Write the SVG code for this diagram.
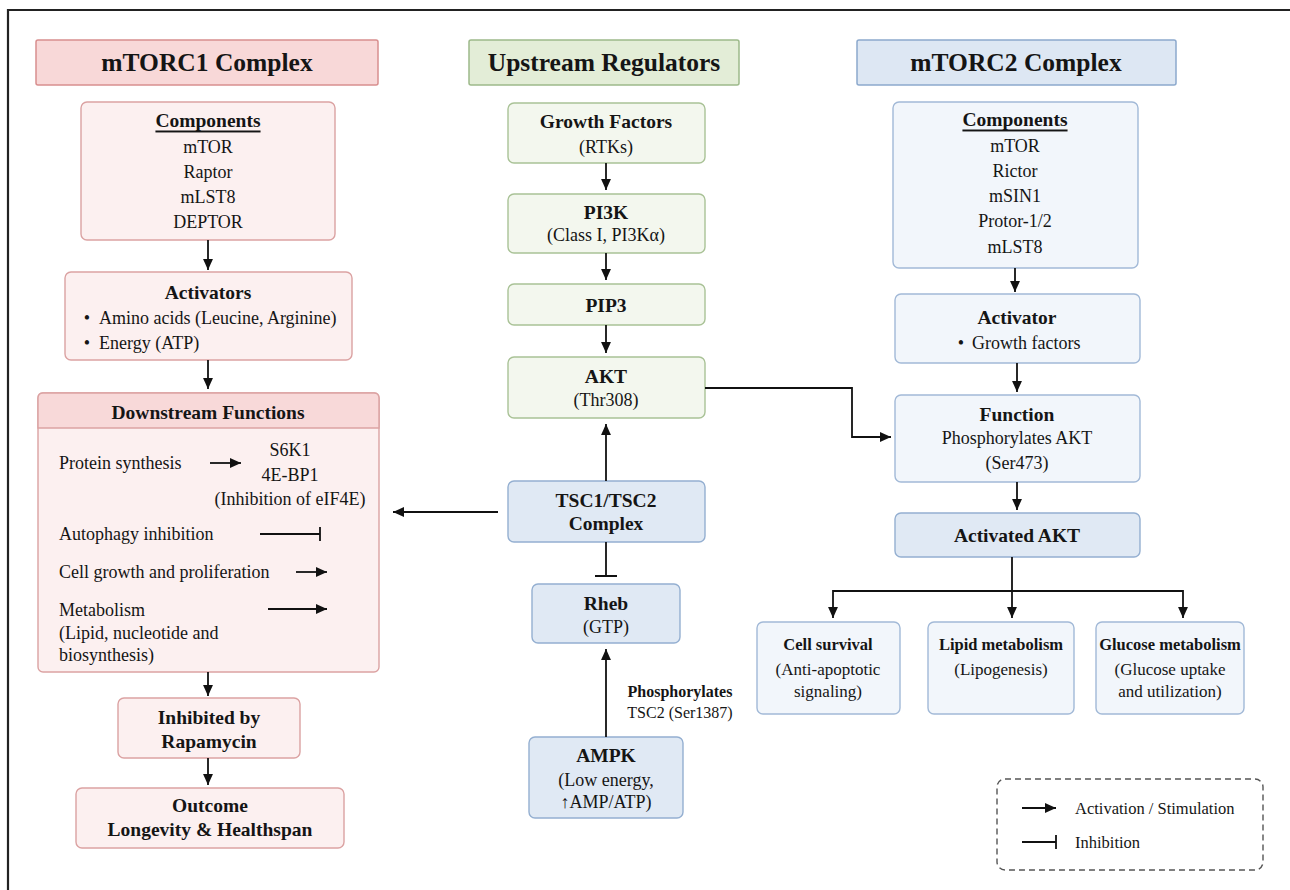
<svg xmlns="http://www.w3.org/2000/svg" width="1290" height="890" viewBox="0 0 1290 890">
<defs>
<marker id="arr" viewBox="0 0 10 10" refX="10" refY="5" markerWidth="11" markerHeight="11" markerUnits="userSpaceOnUse" orient="auto">
<path d="M0,0.5 L10,5 L0,9.5 z" fill="#111"/>
</marker>
<style>
text{font-family:"Liberation Serif","Times New Roman",serif;fill:#151515;dominant-baseline:central;text-anchor:middle}
.h{font-size:25.5px;font-weight:bold}
.b{font-size:19.5px;font-weight:bold}
.t{font-size:18px}
.bs{font-size:16.5px;font-weight:bold}
.ts{font-size:17px}
.s{font-size:16px}
.lg{font-size:16.5px}
.l{text-anchor:start}
.u{text-decoration:underline}
.redh{fill:#f8d8d8;stroke:#d88e8e;stroke-width:1.5}
.red{fill:#fcf0f0;stroke:#dba2a2;stroke-width:1.4}
.grnh{fill:#e3edd7;stroke:#9db98a;stroke-width:1.5}
.grn{fill:#f3f7ee;stroke:#a9c296;stroke-width:1.4}
.bluh{fill:#dde7f3;stroke:#8ca9cd;stroke-width:1.5}
.blu{fill:#f2f6fb;stroke:#a2b9d7;stroke-width:1.4}
.blu2{fill:#e0e9f4;stroke:#94afd1;stroke-width:1.4}
.c{fill:none;stroke:#111;stroke-width:1.8}
</style>
</defs>
<rect width="1290" height="890" fill="#ffffff"/>
<path d="M8,890 V10 H1290" fill="none" stroke="#222" stroke-width="2.2"/>

<!-- mTORC1 column -->
<g id="mtorc1-header"><rect class="redh" x="36" y="40" width="342" height="45" rx="2"/><text class="h" x="207" y="62">mTORC1 Complex</text></g>
<g id="mtorc1-components"><rect class="red" x="81" y="102" width="254" height="138" rx="6"/>
<text class="b u" x="208" y="120">Components</text>
<text class="t" x="208" y="147">mTOR</text>
<text class="t" x="208" y="172">Raptor</text>
<text class="t" x="208" y="197">mLST8</text>
<text class="t" x="208" y="222">DEPTOR</text></g>
<g id="mtorc1-activators"><rect class="red" x="65" y="272" width="287" height="88" rx="6"/>
<text class="b" x="208" y="292">Activators</text>
<text class="t" x="87" y="318">•</text><text class="t l" x="99" y="318">Amino acids (Leucine, Arginine)</text>
<text class="t" x="87" y="343">•</text><text class="t l" x="99" y="343">Energy (ATP)</text></g>
<g id="downstream"><rect class="red" x="38" y="393" width="341" height="279" rx="5"/>
<path d="M38,428 V398 Q38,393 43,393 H374 Q379,393 379,398 V428 Z" fill="#f8d9d9" stroke="#dba2a2" stroke-width="1.4"/>
<text class="b" x="208" y="412">Downstream Functions</text>
<text class="t l" x="59" y="463">Protein synthesis</text>
<text class="t" x="290" y="450">S6K1</text>
<text class="t" x="290" y="475">4E-BP1</text>
<text class="t" x="290" y="499">(Inhibition of eIF4E)</text>
<text class="t l" x="59" y="534">Autophagy inhibition</text>
<text class="t l" x="59" y="572">Cell growth and proliferation</text>
<text class="t l" x="59" y="610">Metabolism</text>
<text class="t l" x="59" y="633">(Lipid, nucleotide and</text>
<text class="t l" x="59" y="655">biosynthesis)</text></g>
<g id="rapamycin"><rect class="red" x="118" y="698" width="182" height="60" rx="6"/>
<text class="b" x="209" y="717">Inhibited by</text><text class="b" x="209" y="741">Rapamycin</text></g>
<g id="outcome"><rect class="red" x="76" y="788" width="268" height="60" rx="6"/>
<text class="b" x="210" y="805">Outcome</text><text class="b" x="210" y="829">Longevity &amp; Healthspan</text></g>

<!-- Upstream column -->
<g id="upstream-header"><rect class="grnh" x="469" y="40" width="270" height="45" rx="2"/><text class="h" x="604" y="62">Upstream Regulators</text></g>
<g id="growth-factors"><rect class="grn" x="508" y="103" width="197" height="60" rx="6"/>
<text class="b" x="606" y="121">Growth Factors</text><text class="t" x="606" y="147">(RTKs)</text></g>
<g id="pi3k"><rect class="grn" x="508" y="194" width="197" height="59" rx="6"/>
<text class="b" x="606" y="212">PI3K</text><text class="t" x="606" y="235">(Class I, PI3Kα)</text></g>
<g id="pip3"><rect class="grn" x="508" y="284" width="197" height="41" rx="6"/>
<text class="b" x="606" y="305">PIP3</text></g>
<g id="akt"><rect class="grn" x="508" y="357" width="197" height="61" rx="6"/>
<text class="b" x="606" y="376">AKT</text><text class="t" x="606" y="400">(Thr308)</text></g>
<g id="tsc"><rect class="blu2" x="508" y="481" width="197" height="61" rx="6"/>
<text class="b" x="606" y="500">TSC1/TSC2</text><text class="b" x="606" y="523">Complex</text></g>
<g id="rheb"><rect class="blu2" x="532" y="584" width="148" height="59" rx="6"/>
<text class="b" x="606" y="603">Rheb</text><text class="t" x="606" y="627">(GTP)</text></g>
<g id="ampk"><rect class="blu2" x="529" y="737" width="154" height="81" rx="6"/>
<text class="b" x="606" y="755">AMPK</text><text class="t" x="606" y="780">(Low energy,</text><text class="t" x="606" y="802">↑AMP/ATP)</text></g>
<g id="ampk-label"><text class="s" x="680" y="691" font-weight="bold">Phosphorylates</text><text class="s" x="680" y="712">TSC2 (Ser1387)</text></g>

<!-- mTORC2 column -->
<g id="mtorc2-header"><rect class="bluh" x="857" y="40" width="319" height="45" rx="2"/><text class="h" x="1016" y="62">mTORC2 Complex</text></g>
<g id="mtorc2-components"><rect class="blu" x="893" y="102" width="245" height="166" rx="6"/>
<text class="b u" x="1015" y="119">Components</text>
<text class="t" x="1015" y="146">mTOR</text>
<text class="t" x="1015" y="171">Rictor</text>
<text class="t" x="1015" y="196">mSIN1</text>
<text class="t" x="1015" y="221">Protor-1/2</text>
<text class="t" x="1015" y="247">mLST8</text></g>
<g id="mtorc2-activator"><rect class="blu" x="895" y="294" width="245" height="69" rx="6"/>
<text class="b" x="1017" y="317">Activator</text>
<text class="t" x="961" y="343">•</text><text class="t l" x="972" y="343">Growth factors</text></g>
<g id="mtorc2-function"><rect class="blu" x="895" y="395" width="245" height="87" rx="6"/>
<text class="b" x="1017" y="414">Function</text><text class="t" x="1017" y="438">Phosphorylates AKT</text><text class="t" x="1017" y="463">(Ser473)</text></g>
<g id="activated-akt"><rect class="blu2" x="895" y="513" width="245" height="44" rx="6"/>
<text class="b" x="1017" y="535">Activated AKT</text></g>
<g id="cell-survival"><rect class="blu" x="757" y="622" width="143" height="92" rx="6"/>
<text class="bs" x="828" y="644">Cell survival</text><text class="ts" x="828" y="669">(Anti-apoptotic</text><text class="ts" x="828" y="691">signaling)</text></g>
<g id="lipid"><rect class="blu" x="928" y="622" width="146" height="92" rx="6"/>
<text class="bs" x="1001" y="644">Lipid metabolism</text><text class="ts" x="1001" y="669">(Lipogenesis)</text></g>
<g id="glucose"><rect class="blu" x="1096" y="622" width="148" height="92" rx="6"/>
<text class="bs" x="1170" y="644">Glucose metabolism</text><text class="ts" x="1170" y="669">(Glucose uptake</text><text class="ts" x="1170" y="691">and utilization)</text></g>

<!-- Legend -->
<g id="legend"><rect x="997" y="779" width="266" height="91" rx="8" fill="none" stroke="#555" stroke-width="1.4" stroke-dasharray="6 4"/>
<line class="c" x1="1022" y1="808" x2="1056" y2="808" marker-end="url(#arr)"/>
<text class="lg l" x="1075" y="808">Activation / Stimulation</text>
<path class="c" d="M1022,842 H1056 M1056,835 V849"/>
<text class="lg l" x="1075" y="842">Inhibition</text></g>

<!-- Connectors -->
<g id="connectors">
<line class="c" x1="208" y1="240" x2="208" y2="270" marker-end="url(#arr)"/>
<line class="c" x1="208" y1="360" x2="208" y2="389" marker-end="url(#arr)"/>
<line class="c" x1="208" y1="672" x2="208" y2="696" marker-end="url(#arr)"/>
<line class="c" x1="208" y1="758" x2="208" y2="785" marker-end="url(#arr)"/>
<line class="c" x1="210" y1="463" x2="241" y2="463" marker-end="url(#arr)"/>
<path class="c" d="M260,534 H320 M320,527 V541"/>
<line class="c" x1="296" y1="572" x2="327" y2="572" marker-end="url(#arr)"/>
<line class="c" x1="268" y1="609" x2="327" y2="609" marker-end="url(#arr)"/>

<line class="c" x1="606" y1="163" x2="606" y2="190" marker-end="url(#arr)"/>
<line class="c" x1="606" y1="253" x2="606" y2="280" marker-end="url(#arr)"/>
<line class="c" x1="606" y1="325" x2="606" y2="353" marker-end="url(#arr)"/>
<line class="c" x1="606" y1="481" x2="606" y2="424" marker-end="url(#arr)"/>
<line class="c" x1="498" y1="512" x2="393" y2="512" marker-end="url(#arr)"/>
<path class="c" d="M606,542 V576 M595,576 H617"/>
<line class="c" x1="606" y1="737" x2="606" y2="649" marker-end="url(#arr)"/>
<polyline class="c" points="705,388 852,388 852,437 891,437" marker-end="url(#arr)"/>

<line class="c" x1="1015" y1="268" x2="1015" y2="292" marker-end="url(#arr)"/>
<line class="c" x1="1017" y1="363" x2="1017" y2="392" marker-end="url(#arr)"/>
<line class="c" x1="1017" y1="482" x2="1017" y2="510" marker-end="url(#arr)"/>
<path class="c" d="M1012,557 V591 M833,591 H1183"/>
<line class="c" x1="833" y1="590" x2="833" y2="618" marker-end="url(#arr)"/>
<line class="c" x1="1012" y1="590" x2="1012" y2="618" marker-end="url(#arr)"/>
<line class="c" x1="1183" y1="590" x2="1183" y2="618" marker-end="url(#arr)"/>
</g>
</svg>
